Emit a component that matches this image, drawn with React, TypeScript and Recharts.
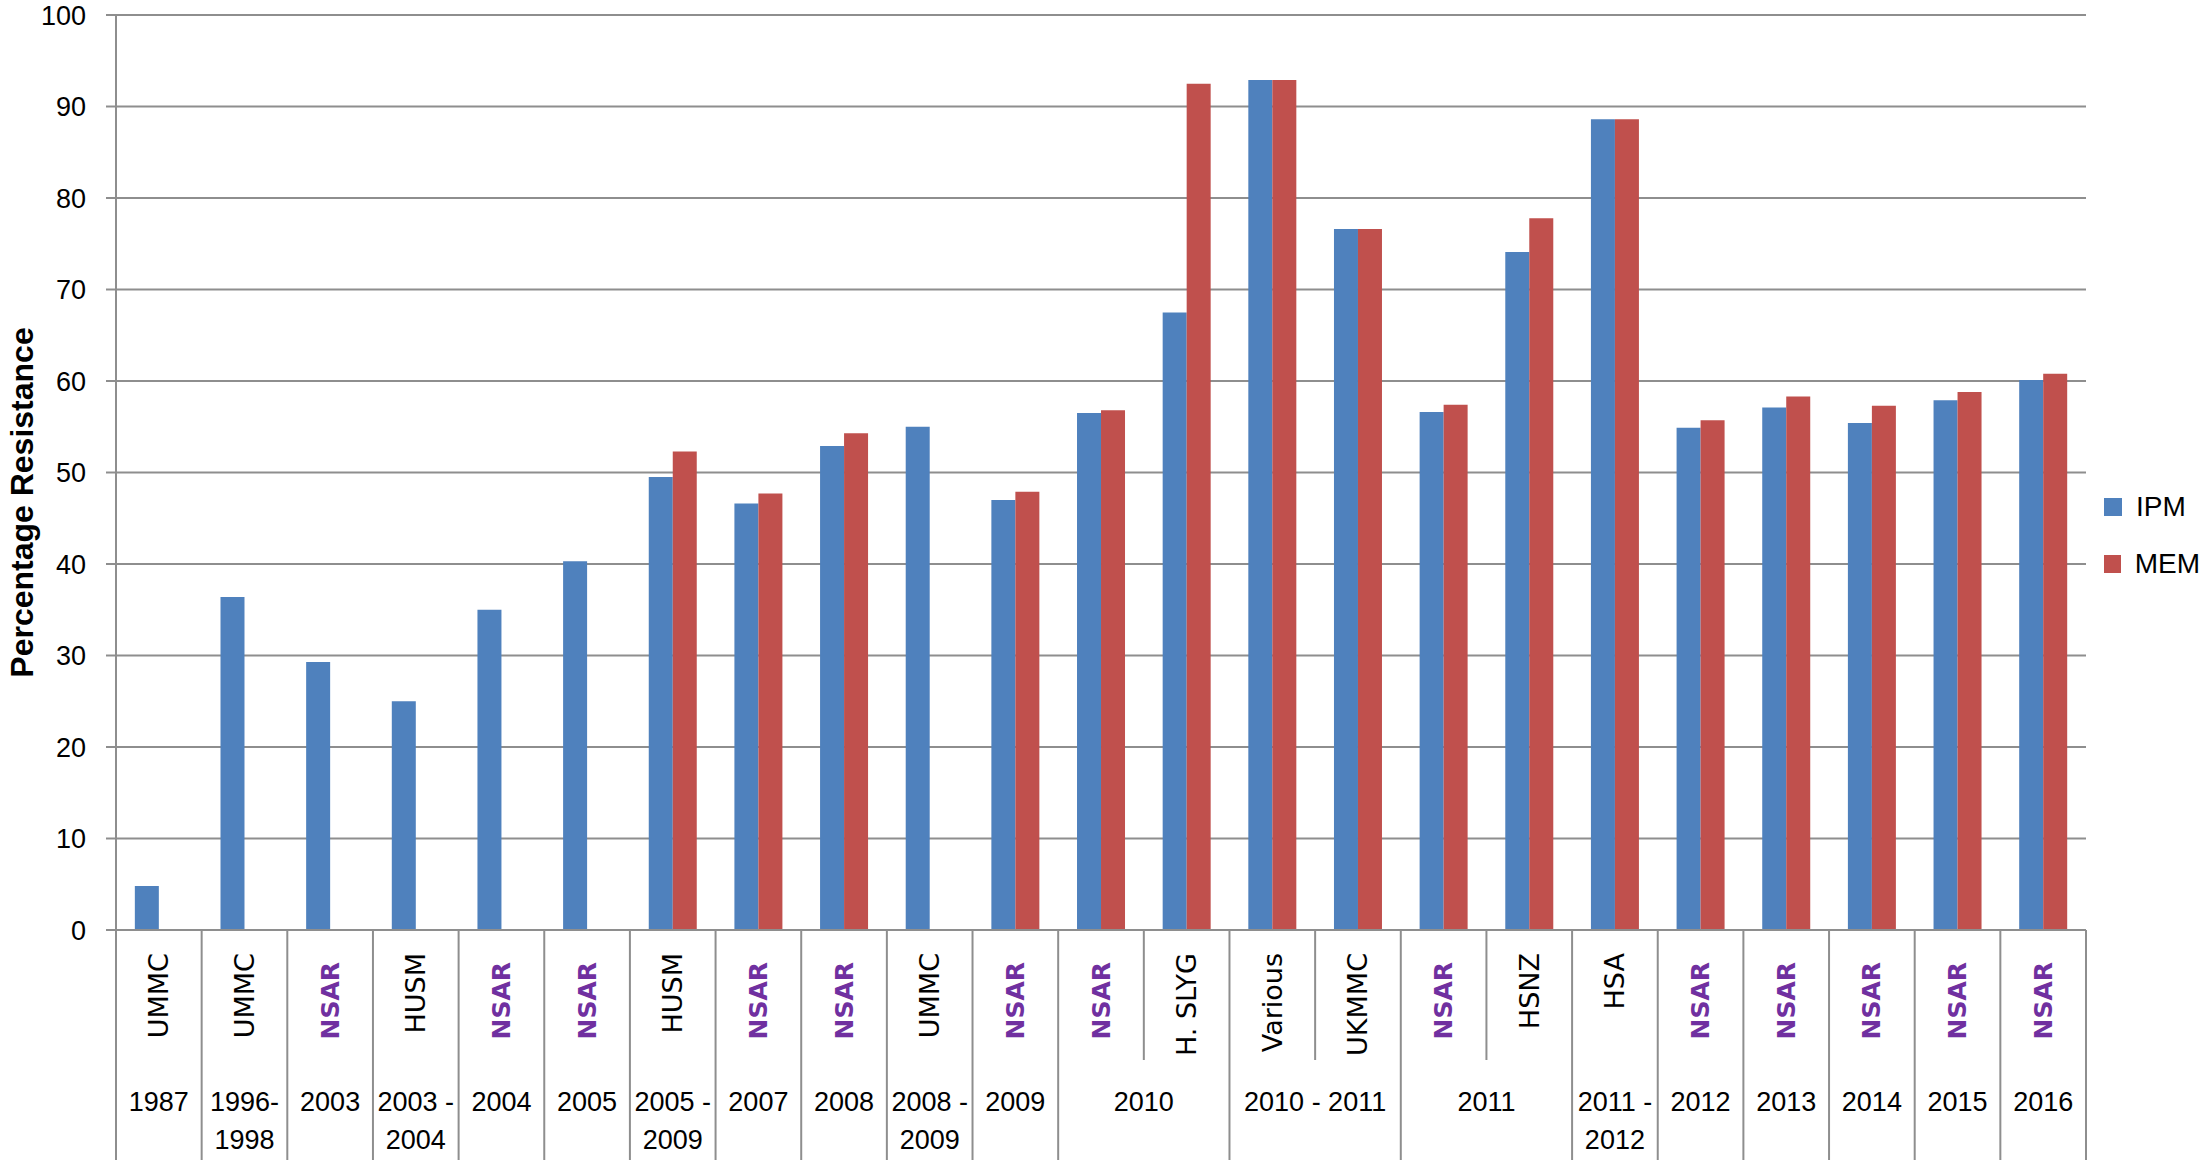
import { BarChart, Bar, XAxis, YAxis, CartesianGrid, Legend } from "recharts";

// inner category label (site) for each bar group
const sites = [
    "UMMC", "UMMC", "NSAR", "HUSM", "NSAR", "NSAR", "HUSM", "NSAR", "NSAR", "UMMC",
    "NSAR", "NSAR", "H. SLYG", "Various", "UKMMC", "NSAR", "HSNZ", "HSA",
    "NSAR", "NSAR", "NSAR", "NSAR", "NSAR",
];

// outer category label (study period) for each bar group
const periods = [
    "1987", "1996-1998", "2003", "2003 - 2004", "2004", "2005", "2005 - 2009",
    "2007", "2008", "2008 - 2009", "2009", "2010", "2010", "2010 - 2011",
    "2010 - 2011", "2011", "2011", "2011 - 2012", "2012", "2013", "2014",
    "2015", "2016",
];

const ipm = [
    4.8, 36.4, 29.3, 25.0, 35.0, 40.3, 49.5, 46.6, 52.9, 55.0, 47.0, 56.5,
    67.5, 92.9, 76.6, 56.6, 74.1, 88.6, 54.9, 57.1, 55.4, 57.9, 60.1,
];

const mem = [
    null, null, null, null, null, null, 52.3, 47.7, 54.3, null, 47.9, 56.8,
    92.5, 92.9, 76.6, 57.4, 77.8, 88.6, 55.7, 58.3, 57.3, 58.8, 60.8,
];

const yTicks = [0, 10, 20, 30, 40, 50, 60, 70, 80, 90, 100];

const data = sites.map((site, i) => ({
    key: String(i),
    site,
    period: periods[i],
    ipm: ipm[i],
    mem: mem[i],
}));

const W = 2200;
const H = 1165;
const MARGIN = { top: 15, right: 114, bottom: 0, left: 0 };
const Y_AXIS_W = 116;
const X_AXIS_H = 235;
const PLOT_W = W - MARGIN.left - MARGIN.right - Y_AXIS_W;
const BAND = PLOT_W / sites.length;

const GRID = "#8e8e8e";
const LABEL_FONT = "'Liberation Sans', Arial, sans-serif";
const SITE_FONT = "'DejaVu Sans', Verdana, sans-serif";

function groupSpan(index: number) {
    let n = 1;
    while (index + n < periods.length && periods[index + n] === periods[index]) n++;
    return n;
}

function periodLines(label: string, span: number) {
    if (span > 1 || label.indexOf("-") < 0) return [label];
    const cut = label.indexOf("-") + 1;
    return [label.slice(0, cut).trim(), label.slice(cut).trim()];
}

function CategoryTick(props: any) {
    const { x, y, index } = props;
    const left = x - BAND / 2;
    const right = x + BAND / 2;
    const site = sites[index];
    const isNsar = site === "NSAR";
    const startsGroup = index === 0 || periods[index] !== periods[index - 1];
    const isLast = index === sites.length - 1;
    const textTop = y + (isNsar ? 32 : 23);

    let periodLabel = null;
    if (startsGroup) {
        const span = groupSpan(index);
        const cx = left + (span * BAND) / 2;
        const lines = periodLines(periods[index], span);
        periodLabel = lines.map((line, k) => (
            <text
                key={k}
                x={cx}
                y={y + 172 + k * 38}
                textAnchor="middle"
                dominantBaseline="central"
                fontFamily={LABEL_FONT}
                fontSize={27}
                fill="#000"
            >
                {line}
            </text>
        ));
    }

    return (
        <g>
            <line
                x1={left}
                x2={left}
                y1={y}
                y2={y + (startsGroup ? 230 : 130)}
                stroke={GRID}
                strokeWidth={2}
            />
            {isLast && (
                <line x1={right} x2={right} y1={y} y2={y + 230} stroke={GRID} strokeWidth={2} />
            )}
            <text
                x={x}
                y={textTop}
                transform={`rotate(-90, ${x}, ${textTop})`}
                textAnchor="end"
                dominantBaseline="central"
                fontFamily={SITE_FONT}
                fontSize={isNsar ? 25 : 27}
                fontWeight={isNsar ? 700 : 400}
                fill={isNsar ? "#7030A0" : "#000"}
            >
                {site}
            </text>
            {periodLabel}
        </g>
    );
}

function YTitle(props: any) {
    const vb = props.viewBox || { x: 0, y: MARGIN.top, height: H - MARGIN.top - X_AXIS_H };
    const x = vb.x + 33;
    const y = vb.y + vb.height / 2 + 30;
    return (
        <text
            x={x}
            y={y}
            transform={`rotate(-90, ${x}, ${y})`}
            textAnchor="middle"
            fontFamily={LABEL_FONT}
            fontSize={32}
            fontWeight={700}
            fill="#000"
        >
            Percentage Resistance
        </text>
    );
}

function LegendBox(props: any) {
    const items = props.payload || [];
    return (
        <div style={{ fontFamily: LABEL_FONT, fontSize: 28, color: "#000" }}>
            {items.map((item: any) => (
                <div
                    key={item.value}
                    style={{ display: "flex", alignItems: "center", height: 57 }}
                >
                    <span
                        style={{
                            width: 18,
                            height: 18,
                            background: item.color,
                            marginRight: 14,
                            display: "inline-block",
                        }}
                    />
                    <span>{item.value}</span>
                </div>
            ))}
        </div>
    );
}

export default function App() {
    return (
        <div
            style={{
                position: "absolute",
                left: 0,
                top: 0,
                width: W,
                height: H,
                background: "#fff",
            }}
        >
            <BarChart
                width={W}
                height={H}
                data={data}
                margin={MARGIN}
                barCategoryGap="22%"
                barGap={0}
            >
                <CartesianGrid vertical={false} stroke={GRID} strokeWidth={2} />
                <XAxis
                    dataKey="key"
                    height={X_AXIS_H}
                    interval={0}
                    tickLine={false}
                    tickSize={0}
                    tickMargin={0}
                    axisLine={{ stroke: GRID, strokeWidth: 2 }}
                    tick={<CategoryTick />}
                />
                <YAxis
                    width={Y_AXIS_W}
                    domain={[0, 100]}
                    ticks={yTicks}
                    interval={0}
                    tickSize={10}
                    tickMargin={20}
                    tickLine={{ stroke: GRID, strokeWidth: 2 }}
                    axisLine={{ stroke: GRID, strokeWidth: 2 }}
                    tick={{ fill: "#000", fontSize: 27, fontFamily: LABEL_FONT }}
                    label={<YTitle />}
                />
                <Legend
                    layout="vertical"
                    align="center"
                    verticalAlign="middle"
                    content={<LegendBox />}
                    wrapperStyle={{ left: 2104, top: 478, width: 96 }}
                />
                <Bar dataKey="ipm" name="IPM" fill="#4F81BD" isAnimationActive={false} />
                <Bar dataKey="mem" name="MEM" fill="#C0504D" isAnimationActive={false} />
            </BarChart>
        </div>
    );
}
